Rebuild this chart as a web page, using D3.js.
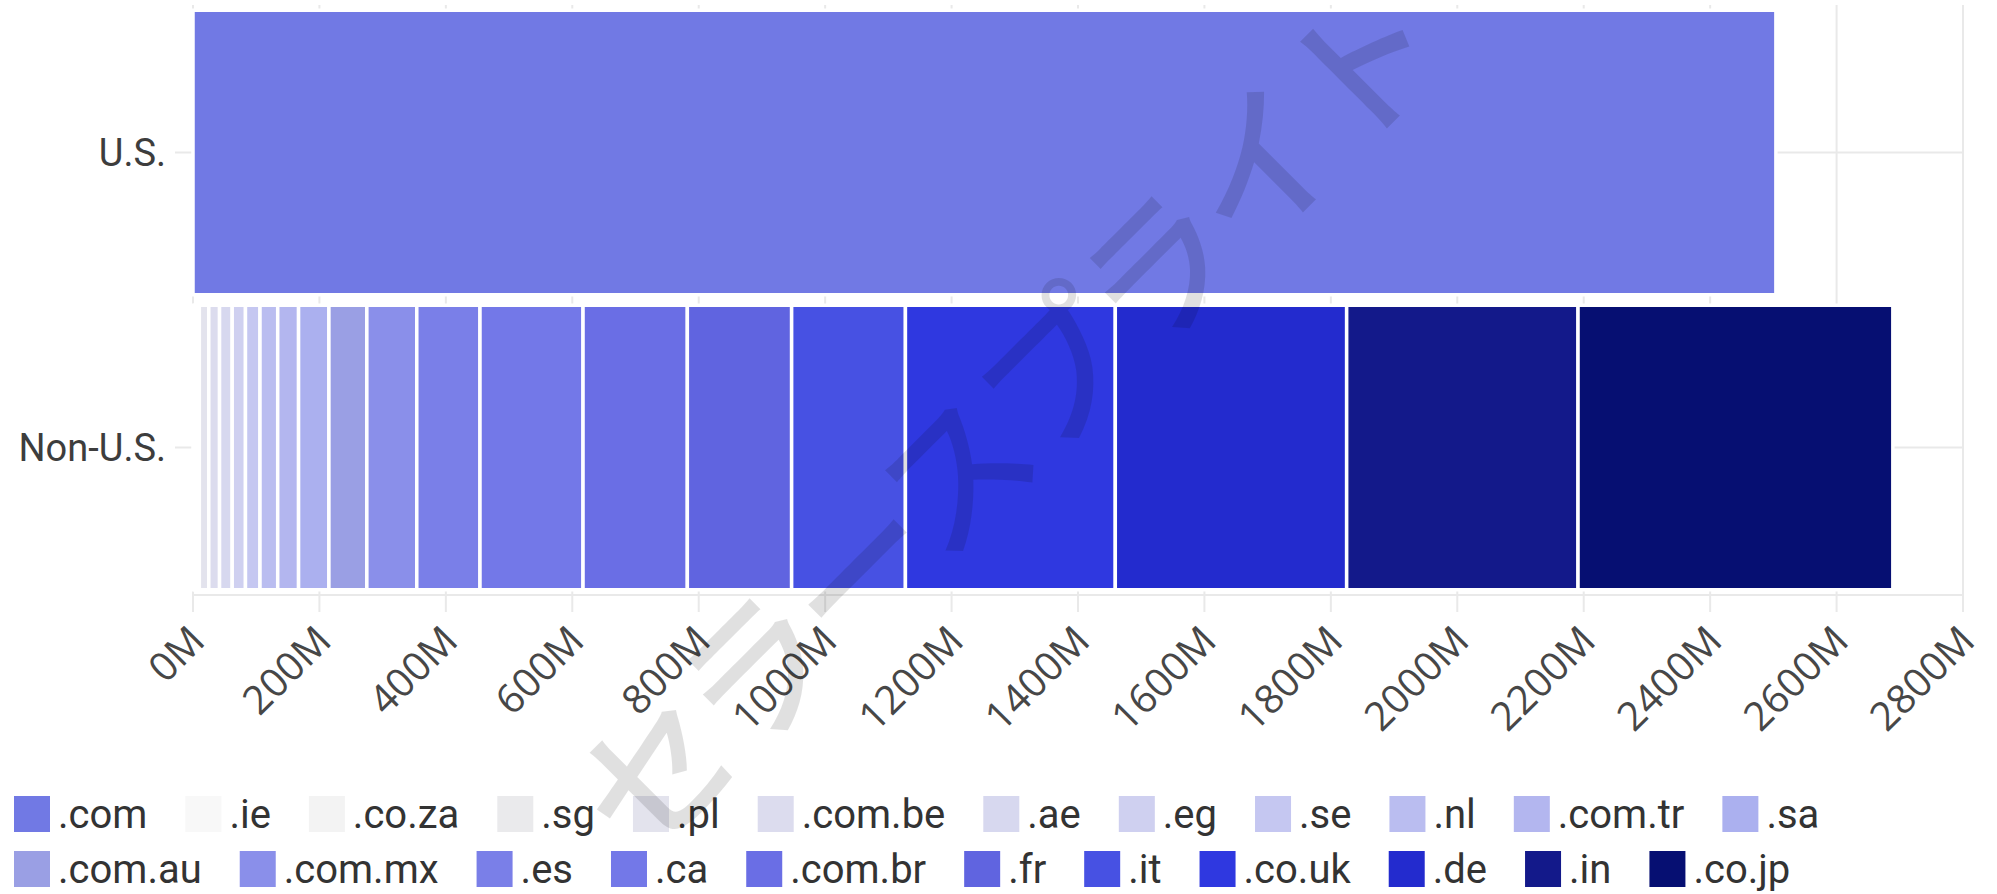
<!DOCTYPE html>
<meta charset="utf-8">
<style>
  body { margin: 0; background: #fff; }
  .tick-label {
    font-family: 'Open Sans', sans-serif;
    font-size: 40px;
    fill: #474747;
  }
  .cat-label {
    font-family: Roboto, sans-serif;
    font-size: 38px;
    fill: #3d3d3d;
  }
  .legend-label {
    font-family: Roboto, sans-serif;
    font-size: 40px;
    fill: #333;
  }
  .watermark {
    font-family: 'Noto Sans CJK JP', sans-serif;
    font-size: 150px;
    font-weight: 500;
    fill: #000;
    fill-opacity: 0.12;
  }
</style>
<script src="https://d3js.org/d3.v7.min.js"></script>

<div id="my_dataviz"></div>
<script>

// categories on the y axis
var regions = ["U.S.", "Non-U.S."];

// marketplaces, in legend / stacking order
var domains = [".com", ".ie", ".co.za", ".sg", ".pl", ".com.be", ".ae", ".eg", ".se", ".nl",
  ".com.tr", ".sa", ".com.au", ".com.mx", ".es", ".ca", ".com.br", ".fr", ".it", ".co.uk",
  ".de", ".in", ".co.jp"];

// values in millions, one per domain
var usValues = [2504, 0, 0, 0, 0, 0, 0, 0, 0, 0,
  0, 0, 0, 0, 0, 0, 0, 0, 0, 0,
  0, 0, 0];
var nonUsValues = [0, 3, 3, 4, 15, 17, 20, 21, 23, 28,
  33, 48, 60, 79, 100, 163, 165, 165, 180, 332,
  366, 366, 498];

var colors = ["#7179e4", "#f8f8f8", "#f3f3f3", "#eaeaec", "#e3e3ed", "#dcdcee", "#d7d8ef", "#cfd0f0",
  "#c5c7f1", "#babdf0", "#b3b6ef", "#abb0ef", "#9a9fe4", "#8a8fea", "#7a7fe8", "#7378e8",
  "#6a6ee5", "#6064e0", "#4751e3", "#2f38e0", "#232bce", "#13198a", "#060f72"];

var xTicks = [0, 200, 400, 600, 800, 1000, 1200, 1400, 1600, 1800, 2000, 2200, 2400, 2600, 2800];

var watermarkText = "セラースプライト";

var W = 1997, H = 894;
var margin = {top: 5, right: 34, bottom: 299, left: 193},
    width = W - margin.left - margin.right,
    height = H - margin.top - margin.bottom;

var root = d3.select("#my_dataviz")
  .append("svg")
    .attr("width", W)
    .attr("height", H);

var svg = root.append("g")
    .attr("transform", "translate(" + margin.left + "," + margin.top + ")");

// build rows for the stack
var rows = regions.map(function(r, i) {
  var row = {region: r};
  var vals = i == 0 ? usValues : nonUsValues;
  domains.forEach(function(d, j) { row[d] = vals[j]; });
  return row;
});

var series = d3.stack().keys(domains)(rows);

var x = d3.scaleLinear()
  .domain([0, 2800])
  .range([0, width]);

var y = d3.scaleBand()
  .domain(regions)
  .range([0, height])
  .paddingInner(0.0356)
  .paddingOuter(0.0178);

var color = d3.scaleOrdinal()
  .domain(domains)
  .range(colors);

var grid = "#e9e9e9";

// vertical grid lines + tick marks
svg.append("g")
  .selectAll("line")
  .data(xTicks)
  .enter()
  .append("line")
    .attr("x1", function(d) { return x(d); })
    .attr("x2", function(d) { return x(d); })
    .attr("y1", 0)
    .attr("y2", height + 17)
    .attr("stroke", grid)
    .attr("stroke-width", 2);

// horizontal grid lines + y ticks
svg.append("g")
  .selectAll("line")
  .data(regions)
  .enter()
  .append("line")
    .attr("x1", -18)
    .attr("x2", width)
    .attr("y1", function(d) { return y(d) + y.bandwidth() / 2; })
    .attr("y2", function(d) { return y(d) + y.bandwidth() / 2; })
    .attr("stroke", grid)
    .attr("stroke-width", 2);

// bottom axis line
svg.append("line")
  .attr("x1", 0)
  .attr("x2", width)
  .attr("y1", height)
  .attr("y2", height)
  .attr("stroke", grid)
  .attr("stroke-width", 2);

// stacked bars
svg.append("g")
  .selectAll("g")
  .data(series)
  .enter()
  .append("g")
    .attr("fill", function(d) { return color(d.key); })
  .selectAll("rect")
  .data(function(d) { return d.filter(function(p) { return p[1] - p[0] > 0; }); })
  .enter()
  .append("rect")
    .attr("x", function(d) { return x(d[0]); })
    .attr("width", function(d) { return x(d[1]) - x(d[0]); })
    .attr("y", function(d) { return y(d.data.region); })
    .attr("height", y.bandwidth())
    .attr("stroke", "#fff")
    .attr("stroke-width", 3.5);

// x tick labels, rotated
svg.append("g")
  .selectAll("text")
  .data(xTicks)
  .enter()
  .append("text")
    .attr("class", "tick-label")
    .attr("text-anchor", "end")
    .attr("transform", function(d) {
      return "translate(" + (x(d) + 14) + "," + (height + 48) + ")rotate(-45)";
    })
    .text(function(d) { return d + "M"; });

// y labels
svg.append("g")
  .selectAll("text")
  .data(regions)
  .enter()
  .append("text")
    .attr("class", "cat-label")
    .attr("text-anchor", "end")
    .attr("x", -27)
    .attr("y", function(d) { return y(d) + y.bandwidth() / 2; })
    .attr("dy", "0.36em")
    .text(function(d) { return d; });

// legend, flowing left to right and wrapping
var legend = root.append("g");
var lx = 14, ly = 796, sw = 36, maxX = 1960;
domains.forEach(function(d) {
  var item = legend.append("g");
  item.append("rect")
    .attr("width", sw)
    .attr("height", sw)
    .attr("fill", color(d));
  var t = item.append("text")
    .attr("class", "legend-label")
    .attr("x", sw + 8)
    .attr("y", sw - 4)
    .text(d);
  var w = sw + 8 + t.node().getComputedTextLength();
  if (lx + w > maxX) {
    lx = 14;
    ly += 55;
  }
  item.attr("transform", "translate(" + lx + "," + ly + ")");
  lx += w + 38;
});

// watermark
root.append("text")
  .attr("class", "watermark")
  .attr("text-anchor", "middle")
  .attr("dominant-baseline", "central")
  .attr("letter-spacing", "-6px")
  .attr("transform", "translate(1000,415)rotate(-45)")
  .text(watermarkText);

</script>
